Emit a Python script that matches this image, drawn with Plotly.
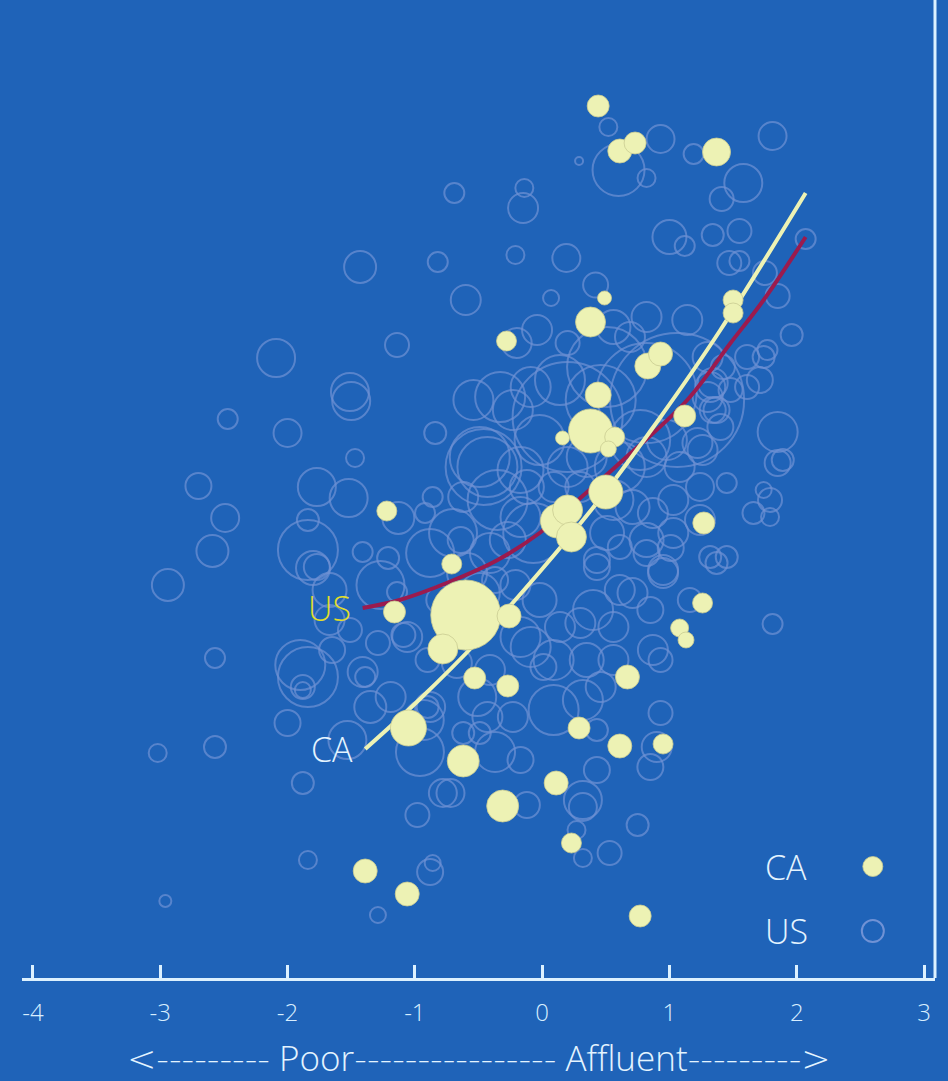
import plotly.graph_objects as go

# ---------------- data ----------------
# Canadian regions (filled markers): x = affluence score, y = outcome index, s = population weight
ca_x = [0.44, 0.61, 0.73, 1.37, 0.38, 0.49, -0.28, 1.50, 1.50, 0.83, 0.93, 0.44, 0.38, 0.16, 0.57,
        0.52, 1.12, 0.50, 0.12, 0.20, 0.23, 1.27, -1.22, -0.71, -0.60, -1.16, -0.26, -0.78, -0.53,
        -0.27, 1.26, 1.08, 1.13, 0.67, -1.05, 0.29, 0.61, 0.95, -0.62, 0.11, -0.31, 0.23, -1.39,
        -1.06, 0.77]
ca_y = [87.2, 82.7, 83.5, 82.6, 65.6, 68.0, 63.7, 67.8, 66.5, 61.2, 62.4, 58.3, 54.7, 54.0, 54.1,
        52.9, 56.2, 48.6, 45.7, 46.8, 44.1, 45.5, 46.7, 41.4, 36.3, 36.6, 36.2, 32.9, 30.0,
        29.2, 37.5, 35.0, 33.8, 30.1, 25.0, 25.0, 23.2, 23.4, 21.7, 19.5, 17.2, 13.5, 10.7,
        8.4, 6.2]
ca_s = [22, 24, 22, 28, 30, 14, 20, 20, 20, 26, 24, 26, 44, 14, 20,
        16, 22, 34, 34, 30, 30, 22, 20, 20, 70, 22, 24, 30, 22,
        22, 20, 18, 16, 24, 36, 22, 24, 20, 32, 24, 32, 20, 24,
        24, 22]

# US counties (open circles)
us_x = [0.52, 0.93, 0.60, 0.82, 0.29, 1.19, 1.81, 1.58, 1.41, -0.69, -0.14, -0.15, 1.00, 1.12, 1.34,
        1.55, 2.07, 1.47, 1.55, 1.75, 1.85, 1.96, -0.82, -0.21, 0.19, -0.60, -1.14, 0.42, 0.07, -1.43,
        -2.09, -1.51, -1.50, -2.47, -2.00, -1.47, -0.84, -2.70, -1.77, -1.52, -2.49, -2.59, -2.94, -1.84,
        -1.84, -1.80, -1.77, -1.67, -1.41, -1.21, -1.13, -0.92, -0.86, -0.88, -1.27, -1.14,
        -2.57, -1.84, -1.90, -1.88, -1.88, -2.00, -1.65, -1.41, -1.39, -1.19, -1.35, -1.29, -1.09, -0.90,
        -0.90, -1.53, -0.96, -2.57, -3.02, -1.88, -0.98, -0.78, -1.84, -2.96, -0.88, -0.86, -1.29,
        -0.37, 0.43, 0.95, 1.37, 1.81, 0.14, 0.30, 0.40, 0.56, 0.71, 0.87, 0.93, 0.09, 0.35, 0.56,
        -0.09, 0.01, 0.09, 0.32, 0.46, -0.51, -0.41, -0.88, -0.62, -0.49, -0.37, -0.17, 0.43, 0.43,
        0.32, 0.32, 0.93, 0.90, 0.85, -0.72, -0.12, 0.75, 0.27, 0.53, 0.32, -0.49, -0.59, -0.17,
        -1.06, -0.67, -0.93, -0.23, -0.43,
        -0.43, -0.49, -0.54, -0.33, -0.23, -0.09, -0.20, -0.04, 0.20, 0.56, 0.69, 0.82, 1.14, 1.30,
        1.42, 1.61, 1.77, 1.85, 1.89, 1.85, 1.45, 1.74, 1.79, 1.66, 1.79, 1.32, 1.45, -0.70, -0.46,
        -0.35, -0.17, -0.07, 0.20, 0.35, 0.61, 0.82, 0.98, 1.08, 1.22, 1.30, 1.34, 1.34, 0.56, 0.71,
        0.87, 1.03, 1.24, 1.03, 0.82, 0.61, 0.43, 0.51, 0.30, 0.09, -0.12, -0.27, -0.41, -0.62,
        0.82, 0.51, 0.20, 1.06, 1.71, 1.61, 1.74, 1.37, 1.40, 1.32, 1.26, 1.48, 0.95, 0.82, 1.01,
        0.14, 0.77, 0.46, -0.02, -0.17, 1.24, 1.16, 0.61, 0.85, -0.02, -0.21, -0.64, -0.80, -1.67,
        -1.51]
us_y = [85.1, 83.9, 80.8, 80.0, 81.7, 82.4, 84.2, 79.5, 77.9, 78.5, 79.0, 77.0, 74.1, 73.2, 74.3,
        74.7, 73.9, 71.5, 71.7, 70.5, 68.2, 64.3, 71.6, 72.3, 72.0, 67.8, 63.3, 69.3, 68.0, 71.1,
        62.0, 58.6, 57.7, 55.9, 54.5, 52.0, 54.5, 49.2, 49.1, 48.0, 46.0, 42.7, 39.3, 45.8,
        42.8, 41.0, 41.1, 38.8, 42.6, 42.0, 46.0, 46.5, 48.1, 42.5, 39.3, 38.6,
        32.0, 30.1, 31.3, 29.1, 28.8, 25.5, 32.8, 30.6, 30.1, 28.1, 27.1, 33.5, 34.3, 31.8,
        27.1, 23.8, 22.6, 23.1, 22.5, 19.5, 16.3, 18.5, 11.8, 7.7, 10.6, 11.5, 6.3,
        39.8, 41.1, 40.5, 41.5, 35.4, 35.1, 35.5, 36.8, 35.1, 38.5, 32.8, 31.8, 31.8, 31.8, 31.8,
        33.1, 31.1, 26.8, 27.8, 29.1, 28.1, 30.8, 27.1, 24.5, 24.5, 22.6, 21.8, 24.8, 20.8,
        17.8, 17.1, 26.5, 23.1, 21.1, 18.5, 17.3, 15.3, 14.8, 12.5, 12.0, 38.5, 40.5, 34.1,
        34.1, 31.5, 25.8, 26.1, 26.1,
        51.1, 52.1, 57.8, 58.1, 56.8, 59.1, 63.5, 64.8, 63.5, 65.1, 64.1, 66.1, 65.8, 62.1,
        61.1, 62.1, 62.8, 54.6, 51.8, 51.5, 49.5, 48.8, 47.8, 46.5, 46.1, 42.1, 42.1, 44.5, 51.1,
        47.8, 46.1, 44.5, 51.1, 52.1, 51.1, 52.1, 53.8, 51.1, 53.5, 58.1, 56.8, 59.5, 47.8, 47.1,
        46.5, 47.8, 49.1, 44.5, 43.8, 43.1, 41.8, 44.5, 49.1, 49.1, 49.1, 43.8, 42.5, 48.1,
        58.5, 61.1, 56.1, 57.8, 59.8, 59.1, 62.1, 56.8, 55.1, 59.1, 52.8, 58.8, 40.8, 42.5, 43.0,
        59.8, 53.8, 57.8, 53.8, 50.8, 45.8, 37.8, 38.8, 36.8, 37.8, 39.3, 43.8, 37.8, 35.8,
        34.8]
us_s = [18, 28, 52, 18, 8, 20, 28, 38, 24, 20, 18, 30, 34, 20, 22,
        24, 20, 24, 20, 24, 24, 22, 20, 18, 28, 30, 24, 25, 16, 32,
        38, 38, 38, 20, 28, 18, 22, 26, 38, 38, 28, 32, 32, 22,
        60, 34, 26, 34, 20, 22, 32, 20, 20, 48, 48, 20,
        20, 60, 50, 24, 16, 26, 26, 30, 20, 30, 32, 24, 24, 24,
        22, 38, 48, 22, 18, 22, 24, 28, 18, 12, 26, 16, 16,
        26, 26, 30, 22, 20, 30, 30, 40, 30, 30, 30, 24, 40, 34, 30,
        40, 26, 50, 40, 30, 38, 30, 30, 22, 22, 40, 26, 22, 26,
        38, 28, 24, 30, 26, 28, 26, 22, 18, 24, 18, 40, 40, 40,
        30, 30, 40, 30, 30,
        60, 60, 40, 50, 40, 40, 30, 30, 24, 34, 30, 30, 30, 30,
        24, 24, 20, 40, 22, 26, 20, 16, 24, 22, 18, 22, 22, 48, 76,
        60, 40, 60, 40, 40, 50, 40, 40, 30, 30, 30, 26, 30, 40, 34,
        30, 30, 28, 30, 34, 24, 26, 34, 30, 30, 34, 36, 40, 30,
        100, 80, 110, 134, 26, 24, 22, 26, 26, 30, 30, 24, 30, 26, 26,
        50, 60, 70, 50, 46, 30, 24, 30, 26, 34, 30, 26, 28, 30,
        24]

# fitted curves
us_fit_x = [-1.41, -1.12, -0.75, -0.35, -0.02, 0.30, 0.61, 1.14, 1.48, 1.74, 2.07]
us_fit_y = [37.0, 37.8, 39.5, 41.8, 44.5, 48.0, 51.5, 57.8, 63.5, 67.8, 74.1]
ca_fit_x = [-1.39, -0.96, -0.49, -0.02, 0.46, 0.93, 1.40, 2.07]
ca_fit_y = [22.9, 27.9, 33.9, 40.6, 48.0, 56.1, 64.8, 78.5]

tick_vals = [-4, -3, -2, -1, 0, 1, 2, 3]
title_parts = ["<---------", " Poor", "----------------", " Affluent", "--------->"]

# ---------------- style ----------------
BG = "#1F63B8"
AXIS = "#DCF1FF"
US_RING = "#7092D5"
CA_FILL = "#EDF2B4"
US_LINE = "#9B1B4E"
FONT = "Open Sans"
TXT = "#E4F4FF"


def dashes(s):
    return "<span style=\"font-family:'DejaVu Sans'\">" + s.replace("<", "&lt;").replace(">", "&gt;") + "</span>"


x_title = "".join(dashes(p) if p.strip().strip("<>-") == "" else p for p in title_parts)

fig = go.Figure()

fig.add_trace(go.Scatter(
    x=us_x, y=us_y, mode="markers", name="US", showlegend=False, hoverinfo="skip",
    marker=dict(size=us_s, color="rgba(0,0,0,0)", line=dict(color=US_RING, width=2)),
))
fig.add_trace(go.Scatter(
    x=us_fit_x, y=us_fit_y, mode="lines", showlegend=False, hoverinfo="skip",
    line=dict(color=US_LINE, width=4, shape="spline", smoothing=1.0),
))
fig.add_trace(go.Scatter(
    x=ca_fit_x, y=ca_fit_y, mode="lines", showlegend=False, hoverinfo="skip",
    line=dict(color=CA_FILL, width=4, shape="spline", smoothing=1.0),
))
fig.add_trace(go.Scatter(
    x=ca_x, y=ca_y, mode="markers", name="CA", showlegend=False, hoverinfo="skip",
    marker=dict(size=ca_s, color=CA_FILL, opacity=1, line=dict(color="#C9CC92", width=0.8)),
))

annotations = [
    dict(x=ca_fit_x[0], y=ca_fit_y[0], xref="x", yref="y", text="CA", showarrow=False,
         xanchor="right", yanchor="middle", xshift=-10,
         font=dict(family=FONT, size=34, color=TXT, weight=300)),
    dict(x=us_fit_x[0], y=us_fit_y[0], xref="x", yref="y", text="US", showarrow=False,
         xanchor="right", yanchor="middle", xshift=-10,
         font=dict(family=FONT, size=34, color="#E2DE2A", weight=300)),
    dict(x=0.5, y=-0.081, xref="paper", yref="paper", text=x_title, showarrow=False,
         xanchor="center", yanchor="middle",
         font=dict(family=FONT, size=35, color=TXT, weight=300)),
    dict(x=0.837, y=0.114, xref="paper", yref="paper", text="CA", showarrow=False,
         xanchor="center", yanchor="middle",
         font=dict(family=FONT, size=34, color=TXT, weight=300)),
    dict(x=0.837, y=0.048, xref="paper", yref="paper", text="US", showarrow=False,
         xanchor="center", yanchor="middle",
         font=dict(family=FONT, size=34, color=TXT, weight=300)),
]

shapes = [
    dict(type="line", xref="paper", yref="paper", x0=1, x1=1, y0=0, y1=1,
         line=dict(color=AXIS, width=3)),
    dict(type="circle", xref="paper", yref="paper", xsizemode="pixel", ysizemode="pixel",
         xanchor=0.9319, yanchor=0.114, x0=-10, x1=10, y0=-10, y1=10,
         fillcolor=CA_FILL, line=dict(color="#C9CC92", width=0.8)),
    dict(type="circle", xref="paper", yref="paper", xsizemode="pixel", ysizemode="pixel",
         xanchor=0.9319, yanchor=0.048, x0=-11, x1=11, y0=-11, y1=11,
         fillcolor="rgba(0,0,0,0)", line=dict(color=US_RING, width=2)),
]

fig.update_layout(
    width=948, height=1081,
    margin=dict(l=22, r=13, t=0, b=103),
    paper_bgcolor=BG, plot_bgcolor=BG,
    showlegend=False,
    annotations=annotations,
    shapes=shapes,
    xaxis=dict(
        range=[-4.086, 3.086], tickvals=tick_vals, ticktext=[str(v) for v in tick_vals],
        showgrid=False, zeroline=False,
        showline=True, linecolor=AXIS, linewidth=3,
        ticks="inside", ticklen=13, tickwidth=2.5, tickcolor=AXIS,
        ticklabelstandoff=11,
        tickfont=dict(family=FONT, size=24, color="#D8EEFF", weight=300),
    ),
    yaxis=dict(range=[0, 97.8], visible=False, showgrid=False, zeroline=False),
)

fig.write_html(
    "out.html",
    config={"displayModeBar": False},
    post_script="document.body.style.margin='0';document.body.style.background='" + BG + "';",
)
